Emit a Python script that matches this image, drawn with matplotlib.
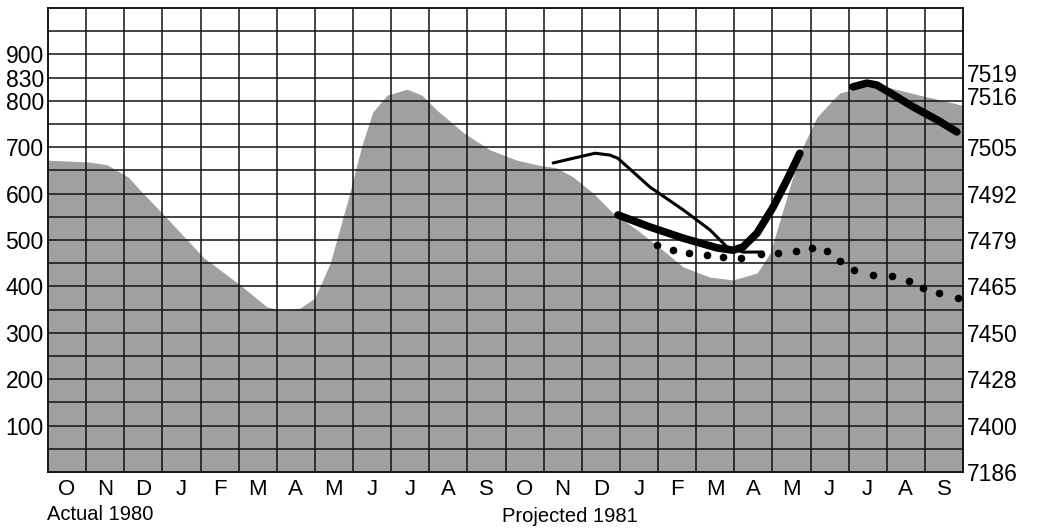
import numpy as np
import matplotlib as mpl
mpl.rcParams['font.family'] = ['Liberation Sans', 'DejaVu Sans']
import matplotlib.pyplot as plt

# months, two years (Oct 1979 .. Sep 1981)
months = ['O', 'N', 'D', 'J', 'F', 'M', 'A', 'M', 'J', 'J', 'A', 'S',
          'O', 'N', 'D', 'J', 'F', 'M', 'A', 'M', 'J', 'J', 'A', 'S']

# left scale ticks (position on grid, label)
left_ticks = [100, 200, 300, 400, 500, 600, 700, 800, 850, 900]
left_labels = ['100', '200', '300', '400', '500', '600', '700', '800', '830', '900']

# right scale ticks
right_ticks = [0, 100, 200, 300, 400, 500, 600, 700, 810, 860]
right_labels = ['7186', '7400', '7428', '7450', '7465', '7479', '7492', '7505', '7516', '7519']

# shaded area (month position, value)
area_x = [0.0, 1.10, 1.55, 2.10, 2.41, 3.12, 4.07, 5.04, 5.74, 6.09, 6.61, 7.00,
          7.40, 7.88, 8.22, 8.52, 8.89, 9.42, 9.81, 10.2, 10.9, 11.6, 12.3, 12.83,
          13.35, 13.77, 14.3, 14.82, 15.45, 16.13, 16.66, 17.36, 17.97, 18.6, 18.94,
          19.28, 19.72, 20.17, 20.59, 20.77, 21.38, 22.09, 22.87, 23.4, 24.0]
area_y = [672, 668, 662, 636, 608, 547, 463, 403, 356, 349, 353, 375,
          450, 590, 700, 776, 812, 825, 812, 780, 731, 694, 672, 662,
          655, 636, 601, 558, 522, 478, 442, 420, 414, 429, 472,
          565, 687, 765, 802, 817, 830, 828, 812, 802, 790]

# thin line
thin_x = [13.25, 13.82, 14.35, 14.74, 14.95, 15.79, 16.66, 17.36, 17.81, 18.23, 18.75]
thin_y = [666, 677, 687, 683, 676, 614, 565, 522, 485, 474, 474]

# thick line (1981 projection, spring)
thick1_x = [14.95, 15.79, 16.66, 17.55, 17.97, 18.23, 18.6, 19.02, 19.38, 19.72]
thick1_y = [554, 528, 504, 483, 478, 485, 515, 571, 629, 687]

# thick line (summer)
thick2_x = [21.11, 21.48, 21.74, 22.09, 22.69, 23.32, 23.84]
thick2_y = [830, 838, 834, 817, 787, 759, 733]

# dotted series
dot_x = [15.97, 16.39, 16.81, 17.29, 17.70, 18.18, 18.70, 19.15, 19.62, 20.04,
         20.43, 20.77, 21.14, 21.64, 22.14, 22.58, 22.95, 23.37, 23.87]
dot_y = [489, 478, 472, 468, 463, 461, 470, 472, 476, 483,
         476, 455, 435, 425, 422, 412, 397, 386, 375]

fig = plt.figure(figsize=(10.37, 5.30), dpi=100)
ax = fig.add_axes([48 / 1037, 58 / 530, 915 / 1037, 464 / 530])

ax.fill_between(area_x, 0, area_y, color='#a0a0a0', lw=0, zorder=1)

# grid, one line per month and per half step of the left scale
for gx in range(1, 24):
    ax.axvline(gx, color='#111111', lw=1.1, zorder=2)
for gy in range(50, 1000, 50):
    ax.axhline(gy, color='#111111', lw=1.1, zorder=2)

ax.plot(thin_x, thin_y, color='black', lw=2.2, solid_capstyle='round', solid_joinstyle='round', zorder=4)
ax.plot(thick1_x, thick1_y, color='black', lw=5.5, solid_capstyle='round', solid_joinstyle='round', zorder=4)
ax.plot(thick2_x, thick2_y, color='black', lw=5.5, solid_capstyle='round', solid_joinstyle='round', zorder=4)
ax.scatter(dot_x, dot_y, s=30, color='black', zorder=5, lw=0)

ax.set_xlim(0, 24)
ax.set_ylim(0, 1000)

ax.set_xticks(np.arange(24) + 0.5)
ax.set_xticklabels(months, fontsize=16)
ax.set_yticks(left_ticks)
ax.set_yticklabels(left_labels, fontsize=16.5)
ax.tick_params(which='major', length=0)
ax.tick_params(axis='x', pad=5)
ax.tick_params(axis='y', pad=3)

ax2 = ax.twinx()
ax2.set_ylim(0, 1000)
ax2.set_yticks(right_ticks)
ax2.set_yticklabels(right_labels, fontsize=16.5)
ax2.tick_params(length=0, pad=3)

for a in (ax, ax2):
    for s in a.spines.values():
        s.set_linewidth(1.1)
        s.set_color('#111111')

fig.text(47 / 1037, 1 - 515 / 530, 'Actual 1980', fontsize=14.5, ha='left', va='center')
fig.text(570 / 1037, 1 - 516 / 530, 'Projected 1981', fontsize=14.5, ha='center', va='center')

plt.savefig('out.png', dpi=100)
plt.close()
